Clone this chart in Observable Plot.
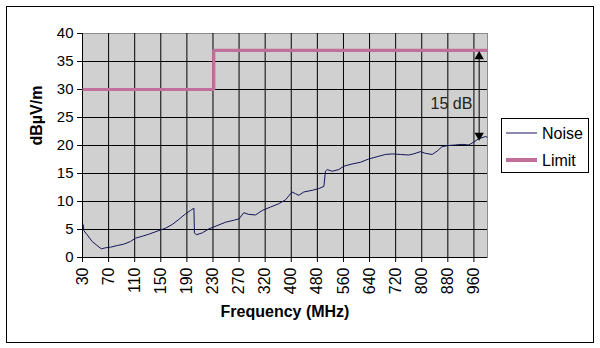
<!DOCTYPE html>
<html>
<head>
<meta charset="utf-8">
<script src="https://cdn.jsdelivr.net/npm/d3@7"></script>
<script src="https://cdn.jsdelivr.net/npm/@observablehq/plot@0.6"></script>
<style>
  html, body { margin: 0; padding: 0; background: white; }
  #chart svg { display: block; }
</style>
</head>
<body>
<div id="chart"></div>
<script>
// Category tick labels (Frequency, MHz) – evenly spaced on a category axis
const tickLabels = [30, 70, 110, 150, 190, 230, 270, 320, 400, 480, 560, 640, 720, 800, 880, 960];
const yTicks = [0, 5, 10, 15, 20, 25, 30, 35, 40];

// Noise trace: position along the category axis (tick index units) and level in dBµV/m
const noisePos = [0, 0.03, 0.05, 0.18, 0.37, 0.56, 0.72, 0.88, 1.07, 1.33, 1.58, 1.84, 2.03, 2.29, 2.54, 2.86, 3.18, 3.44, 3.69, 3.95, 4.14, 4.27, 4.29, 4.36, 4.59, 4.84, 5.16, 5.48, 5.8, 6.0, 6.18, 6.37, 6.63, 6.89, 7.2, 7.52, 7.78, 8.03, 8.16, 8.29, 8.48, 8.8, 9.05, 9.25, 9.31, 9.38, 9.57, 9.82, 10.01, 10.33, 10.65, 10.97, 11.29, 11.61, 11.87, 12.18, 12.5, 12.69, 12.95, 13.14, 13.4, 13.59, 13.78, 14.03, 14.29, 14.55, 14.8, 14.99, 15.18, 15.44, 15.5];
const noiseLevel = [6.0, 5.8, 4.8, 4.05, 2.86, 2.14, 1.55, 1.73, 1.84, 2.14, 2.38, 2.86, 3.45, 3.8, 4.16, 4.7, 5.23, 5.9, 6.8, 7.8, 8.4, 8.8, 4.4, 4.05, 4.4, 5.1, 5.7, 6.3, 6.66, 6.9, 8.0, 7.7, 7.6, 8.4, 9.0, 9.6, 10.3, 11.7, 11.4, 11.1, 11.7, 12.0, 12.3, 12.7, 15.4, 15.7, 15.4, 15.7, 16.3, 16.7, 17.0, 17.6, 18.0, 18.4, 18.5, 18.4, 18.3, 18.5, 18.9, 18.6, 18.4, 19.0, 19.8, 20.0, 20.1, 20.2, 20.1, 20.6, 21.2, 21.6, 21.5];

// Limit line (step at 230 MHz)
const limitPos = [0, 5.03, 5.03, 15.52];
const limitLevel = [30, 30, 37, 37];

// Margin annotation
const annoPos = 15.2;
const annoFrom = 37, annoTo = 20.9;
const annoText = "15 dB";

const seriesNames = ["Noise", "Limit"];
const seriesColors = ["#14145a", "#c0709a"];

const noise = noisePos.map((x, i) => ({x, y: noiseLevel[i]}));
const limit = limitPos.map((x, i) => ({x, y: limitLevel[i]}));
const tickIdx = d3.range(tickLabels.length);

const font = "'Liberation Sans', Arial, sans-serif";

const chart = Plot.plot({
  width: 600,
  height: 348,
  marginLeft: 82,
  marginRight: 113,
  marginTop: 33,
  marginBottom: 91,
  style: {fontFamily: font, fontSize: "15px", background: "white", color: "black", overflow: "visible"},
  x: {domain: [0, 15.52]},
  y: {domain: [0, 40]},
  marks: [
    Plot.frame({fill: "#d0d0d0", stroke: "#8c8c8c"}),
    Plot.gridX(tickIdx.slice(1), {stroke: "black", strokeOpacity: 1}),
    Plot.gridY(yTicks.slice(1, -1), {stroke: "black", strokeOpacity: 1}),
    Plot.ruleX([0], {stroke: "black"}),
    Plot.ruleY([0], {stroke: "black"}),
    Plot.axisX(tickIdx, {tickFormat: i => tickLabels[i], tickRotate: -90, tickSize: 5, tickPadding: 5, label: null, fontSize: 16}),
    Plot.axisY(yTicks, {tickSize: 5, tickPadding: 4, label: null, fontSize: 15}),
    Plot.line(limit, {x: "x", y: "y", stroke: seriesColors[1], strokeWidth: 3.2, strokeLinejoin: "miter", strokeLinecap: "butt"}),
    Plot.line(noise, {x: "x", y: "y", stroke: seriesColors[0], strokeWidth: 1}),
    Plot.ruleX([annoPos], {y1: annoFrom - 1, y2: annoTo + 1, stroke: "black", strokeWidth: 1}),
    Plot.dot([annoPos], {x: d => d, y: 35.9, symbol: "triangle", r: 3.5, fill: "black", stroke: null}),
    Plot.dot([annoPos], {x: d => d, y: 21.8, symbol: "triangle", r: 3.5, fill: "black", stroke: null, rotate: 180}),
    Plot.text([annoText], {x: 14.14, y: 27.5, text: d => d, fontSize: 16, fill: "#222"}),
    Plot.text(["Frequency (MHz)"], {frameAnchor: "bottom", dy: 59, text: d => d, fontSize: 16, fontWeight: "bold"}),
    Plot.text(["dBµV/m"], {frameAnchor: "left", dx: -46, rotate: -90, text: d => d, fontSize: 16, fontWeight: "bold"})
  ]
});

document.getElementById("chart").append(chart);

// Outer chart border
const svg = d3.select(chart);
svg.insert("rect", ":first-child")
  .attr("x", 6.5).attr("y", 6.5).attr("width", 587).attr("height", 336)
  .attr("fill", "white").attr("stroke", "black").attr("stroke-width", 1);

// Legend
const lg = svg.append("g").attr("font-family", font).attr("font-size", 16).attr("text-anchor", "start");
lg.append("rect").attr("x", 501.5).attr("y", 118.5).attr("width", 87).attr("height", 54)
  .attr("fill", "white").attr("stroke", "black");
seriesNames.forEach((name, i) => {
  const cy = i === 0 ? 133 : 160;
  lg.append("line").attr("x1", 506).attr("x2", 537).attr("y1", cy).attr("y2", cy)
    .attr("stroke", seriesColors[i]).attr("stroke-width", i === 0 ? 1 : 4);
  lg.append("text").attr("x", 542).attr("y", cy).attr("dy", "0.35em").attr("text-anchor", "start")
    .attr("fill", "black").text(name);
});
</script>
</body>
</html>
